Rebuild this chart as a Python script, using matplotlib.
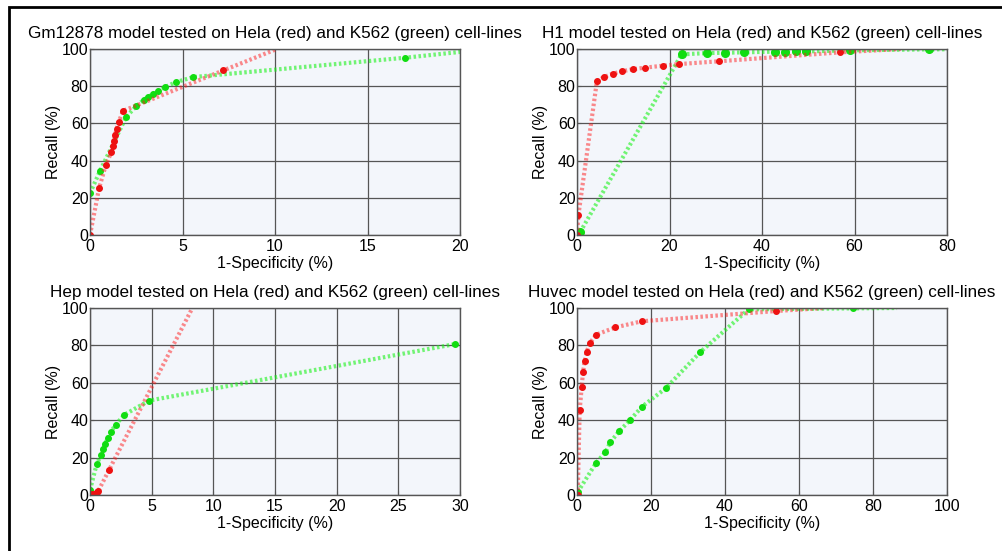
import numpy as np
import matplotlib
matplotlib.use('Agg')
import matplotlib.pyplot as plt
from matplotlib.patches import Rectangle

plt.rcParams['font.family'] = ['Liberation Sans', 'DejaVu Sans']

# Gm12878 model
gm_red_x = [0, 0.49, 0.85, 1.15, 1.23, 1.30, 1.35, 1.44, 1.55, 1.80, 7.21, 10.1]
gm_red_y = [0, 25.1, 37.5, 44.4, 47.7, 50.5, 53.6, 57.2, 60.9, 66.8, 88.5, 100]
gm_grn_x = [0, 0.54, 1.95, 2.49, 2.92, 3.14, 3.39, 3.69, 4.07, 4.63, 5.57, 17.03, 21.5]
gm_grn_y = [22.5, 34.4, 63.4, 69.2, 72.8, 74.2, 75.8, 77.6, 79.6, 82.1, 84.9, 95.3, 100]

# H1 model
h1_red_x = [0, 0.3, 4.3, 5.8, 7.7, 9.7, 12.0, 14.8, 18.5, 22.1, 30.7, 56.9, 70]
h1_red_y = [0, 10.6, 82.6, 84.9, 86.7, 88.0, 89.1, 90.0, 91.0, 91.9, 93.4, 98.2, 100]
h1_grn_x = [0.7, 22.6, 28.0, 31.9, 36.1, 42.9, 44.9, 47.4, 49.6, 59.0, 76.1, 100]
h1_grn_y = [1.6, 97.1, 97.8, 98.0, 98.2, 98.6, 98.6, 98.7, 98.7, 99.3, 99.8, 100]

# Hep model
hep_red_x = [0, 0.19, 0.38, 0.54, 0.67, 1.56, 8.3]
hep_red_y = [0, 0.4, 0.7, 1.4, 2.1, 13.6, 100]
hep_grn_x = [0, 0.54, 0.89, 1.05, 1.24, 1.43, 1.70, 2.10, 2.78, 4.80, 29.6]
hep_grn_y = [2.7, 16.4, 21.4, 24.5, 27.5, 30.4, 33.9, 37.7, 42.9, 50.5, 80.7]

# Huvec model
hu_red_x = [0.2, 0.72, 1.26, 1.62, 2.07, 2.61, 3.42, 5.14, 10.3, 17.5, 53.9, 67]
hu_red_y = [0, 45.2, 57.5, 65.7, 71.4, 76.4, 81.1, 85.7, 89.6, 92.9, 98.4, 100]
hu_grn_x = [0.2, 5.2, 7.7, 9.0, 11.4, 14.3, 17.6, 24.0, 33.3, 46.4, 74.7, 86.5]
hu_grn_y = [1.6, 17.3, 22.9, 28.2, 34.1, 40.0, 47.3, 57.1, 76.4, 99.3, 99.8, 100]

titles = ['Gm12878 model tested on Hela (red) and K562 (green) cell-lines',
          'H1 model tested on Hela (red) and K562 (green) cell-lines',
          'Hep model tested on Hela (red) and K562 (green) cell-lines',
          'Huvec model tested on Hela (red) and K562 (green) cell-lines']
xmax = [20, 80, 30, 100]
xticks = [[0, 5, 10, 15, 20], [0, 20, 40, 60, 80], [0, 5, 10, 15, 20, 25, 30],
          [0, 20, 40, 60, 80, 100]]

panels = [
    (gm_red_x, gm_red_y, True, gm_grn_x, gm_grn_y, True, 4),
    (h1_red_x, h1_red_y, True, h1_grn_x, h1_grn_y, True, 5.5),
    (hep_red_x, hep_red_y, True, hep_grn_x, hep_grn_y, False, 4),
    (hu_red_x, hu_red_y, True, hu_grn_x, hu_grn_y, True, 4),
]

# axes boxes in pixels: left, top, right, bottom
boxes = [(90, 49, 460, 235), (577, 49, 947, 235),
         (90, 308, 460, 495), (577, 308, 947, 495)]

W, H = 1002, 551
fig = plt.figure(figsize=(W / 100, H / 100), dpi=100)

fig.patches.append(Rectangle((9 / W, -0.2), 1.5, 1.2 - 7 / H,
                             transform=fig.transFigure, fill=False,
                             edgecolor='black', linewidth=2))

for i, (rx, ry, rtail, gx, gy, gtail, gms) in enumerate(panels):
    l, t, r, b = boxes[i]
    ax = fig.add_axes([l / W, 1 - b / H, (r - l) / W, (b - t) / H])
    ax.set_facecolor('#f3f6fb')
    mr = slice(0, len(rx) - 1) if rtail else None
    mg = slice(0, len(gx) - 1) if gtail else None
    ax.plot(gx, gy, linestyle=(0, (0.6, 0.6)), color=(0.1, 0.95, 0.1), alpha=0.6,
            linewidth=3)
    ax.plot(gx, gy, linestyle='none', marker='o', color='#11dd11',
            markersize=gms, markevery=mg)
    ax.plot(rx, ry, linestyle=(0, (0.6, 0.6)), color=(1, 0.1, 0.1), alpha=0.5,
            linewidth=3)
    ax.plot(rx, ry, linestyle='none', marker='o', color='#ee1111',
            markersize=4, markevery=mr)
    ax.set_xlim(0, xmax[i])
    ax.set_ylim(0, 100)
    ax.set_xticks(xticks[i])
    ax.set_yticks([0, 20, 40, 60, 80, 100])
    ax.grid(True, color='#555555', linewidth=0.9)
    ax.set_axisbelow(True)
    for s in ax.spines.values():
        s.set_color('#555555')
        s.set_linewidth(1)
    ax.tick_params(direction='in', length=3, labelsize=11.5, colors='#555555',
                   labelcolor='black')
    ax.tick_params(axis='x', pad=3)
    ax.tick_params(axis='y', pad=1)
    ax.set_xlabel('1-Specificity (%)', fontsize=11.5, labelpad=1)
    ax.set_ylabel('Recall (%)', fontsize=11.5, labelpad=1)
    ax.set_title(titles[i], fontsize=12.3, pad=8)

fig.savefig('out.png', dpi=100)
